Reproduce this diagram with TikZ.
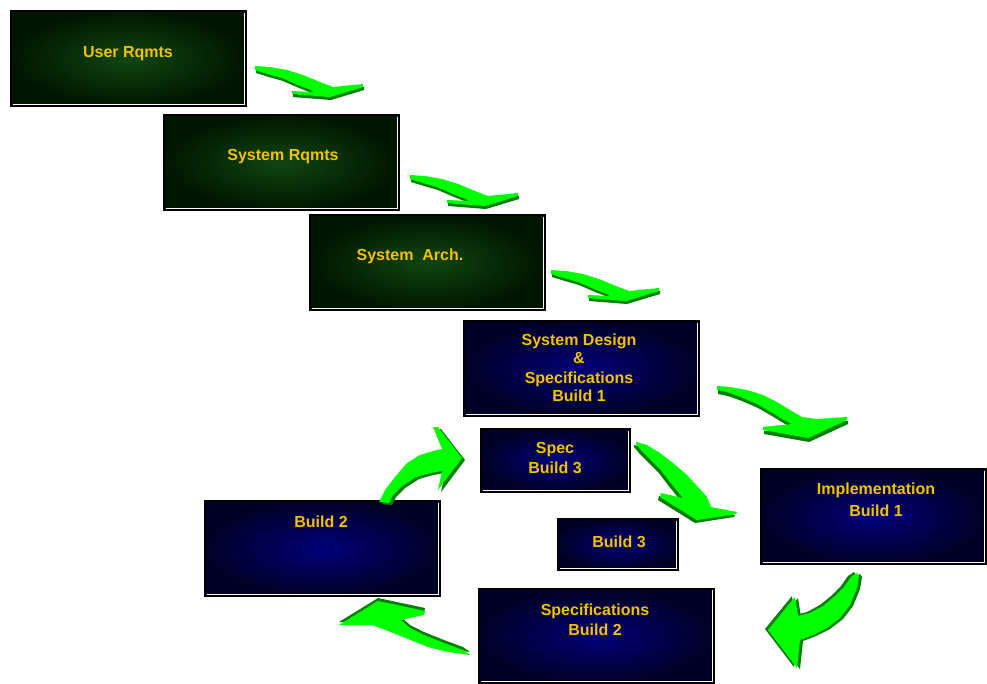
\documentclass[tikz,border=0pt]{standalone}
\usepackage{fontspec}
\setmainfont{Liberation Sans}
\definecolor{grnin}{RGB}{16,70,16}
\definecolor{grnout}{RGB}{0,22,0}
\definecolor{bluin}{RGB}{0,0,122}
\definecolor{bluout}{RGB}{0,0,38}
\definecolor{gold}{RGB}{242,194,0}
\definecolor{arrlt}{RGB}{0,255,0}
\definecolor{arrdk}{RGB}{0,128,0}

% curved 3-D arrow shapes, coordinates in pixels (y downward)
\newcommand{\shapeA}[1]{\fill[#1] (255,66) -- (270,67) -- (287,70) -- (303,75) -- (320,82) -- (333,87)
  -- (363,84) -- (363,87) -- (330,97) -- (292,94) -- (292,91) -- (314,92) -- (311,90) -- (298,85)
  -- (282,78) -- (268,74) -- (255,70) -- cycle;}
\newcommand{\shapeB}[1]{\fill[#1] (717,386) -- (730,387) -- (747,390) -- (763,395) -- (777,402)
  -- (790,410) -- (802,417) -- (817,419) -- (847,417) -- (847,420) -- (808,438) -- (763,430)
  -- (763,427) -- (792,424) -- (784,420) -- (771,412) -- (757,404) -- (741,397) -- (727,392)
  -- (717,390) -- cycle;}
\newcommand{\shapeC}[1]{\fill[#1] (636,442) -- (647,445) -- (660,453) -- (673,463) -- (687,475)
  -- (698,487) -- (707,497) -- (711,507) -- (737,512) -- (736,514) -- (697,520) -- (660,497)
  -- (661,493) -- (683,498) -- (678,492) -- (670,482) -- (660,469) -- (650,459) -- (641,450)
  -- (636,444) -- cycle;}
\newcommand{\shapeD}[1]{\fill[#1] (857,573) -- (859,576) -- (857,588) -- (850,605) -- (840,618)
  -- (827,628) -- (813,635) -- (800,640) -- (797,668) -- (768,630) -- (795,597) -- (798,616)
  -- (810,613) -- (823,606) -- (834,597) -- (844,587) -- (851,577) -- cycle;}
\newcommand{\shapeE}[1]{\fill[#1] (470,655) -- (448,652) -- (428,647) -- (408,639) -- (388,631)
  -- (372,625) -- (339,625) -- (378,601) -- (425,611) -- (424,615) -- (401,620) -- (410,628)
  -- (424,635) -- (444,643) -- (463,650) -- cycle;}
\newcommand{\shapeF}[1]{\fill[#1] (379,502) -- (385,490) -- (395,477) -- (407,463) -- (420,455)
  -- (433,451) -- (442,449) -- (433,427) -- (438,427) -- (462,458) -- (438,490) -- (442,471)
  -- (430,473) -- (416,477) -- (402,486) -- (393,495) -- (389,503) -- cycle;}
% dark copy shifted by (#4,#5), bright copy on top, whole arrow shifted by (#2,#3)
\newcommand{\greenarrow}[5]{#1{arrdk,shift={(#2+#4,#3+#5)}}#1{arrlt,shift={(#2,#3)}}}

\begin{document}
\begin{tikzpicture}[x=0.75pt,y=-0.75pt,
  panel/.style={draw=black, line width=1.5pt, inner sep=0pt,
    path picture={\draw[white, line width=0.75pt]
      ([xshift=-1.125pt,yshift=-1.125pt]path picture bounding box.north east)
      -- ([xshift=-1.125pt,yshift=1.125pt]path picture bounding box.south east)
      -- ([xshift=1.125pt,yshift=1.125pt]path picture bounding box.south west);}},
  gpanel/.style={panel, inner color=grnin, outer color=grnout},
  bpanel/.style={panel, inner color=bluin, outer color=bluout},
  big/.style={minimum width=176.25pt, minimum height=71.25pt},
  lbl/.style={anchor=base, yshift=-4.6pt, inner sep=0pt, text=gold,
    font=\bfseries\fontsize{12}{14}\selectfont}]

\fill[white] (0,0) rectangle (987,683);
\useasboundingbox (0,0) rectangle (987,683);

% panels
\node[gpanel, big] (ur) at (128.5,58.5) {};
\node[gpanel, big] (sr) at (281.5,162.5) {};
\node[gpanel, big] (sa) at (427.5,262.5) {};
\node[bpanel, big] (sd) at (581.5,368.5) {};
\node[bpanel, minimum width=111.75pt, minimum height=47.25pt] (sp3) at (555.5,460.5) {};
\node[bpanel, minimum width=90pt, minimum height=38.25pt] (b3) at (618,544.5) {};
\node[bpanel, minimum width=168.75pt, minimum height=71.25pt] (im) at (873.5,516.5) {};
\node[bpanel, big] (b2) at (322.5,548.5) {};
\node[bpanel, minimum width=176.25pt, minimum height=70.5pt] (sb2) at (596.5,635.5) {};

% labels
\node[lbl] (t1) at (128,51) {User Rqmts};
\node[lbl] (t2) at (283,154) {System Rqmts};
\node[lbl] (t3) at (410,254) {System\ \ Arch.};
\node[lbl] (t4a) at (579,339) {System Design};
\node[lbl] (t4b) at (579,357.5) {\&};
\node[lbl] (t4c) at (579,377.5) {Specifications};
\node[lbl] (t4d) at (579,395.5) {Build 1};
\node[lbl] (t5a) at (555,447) {Spec};
\node[lbl] (t5b) at (555,467) {Build 3};
\node[lbl] (t6) at (619,541) {Build 3};
\node[lbl] (t7a) at (876,488) {Implementation};
\node[lbl] (t7b) at (876,510) {Build 1};
\node[lbl] (t8) at (321,521) {Build 2};
\node[lbl] (t9a) at (595,609) {Specifications};
\node[lbl] (t9b) at (595,629) {Build 2};

% arrows
\greenarrow{\shapeA}{0}{0}{1}{3}
\greenarrow{\shapeA}{155}{109}{1}{3}
\greenarrow{\shapeA}{296}{204}{1}{3}
\greenarrow{\shapeB}{0}{0}{1}{4}
\greenarrow{\shapeC}{0}{0}{-2}{3}
\shapeD{arrdk,shift={(-3,-1)}}
\greenarrow{\shapeD}{0}{0}{3}{1}
\greenarrow{\shapeE}{0}{0}{0}{-3}
\greenarrow{\shapeF}{0}{0}{3}{2}
\end{tikzpicture}
\end{document}
